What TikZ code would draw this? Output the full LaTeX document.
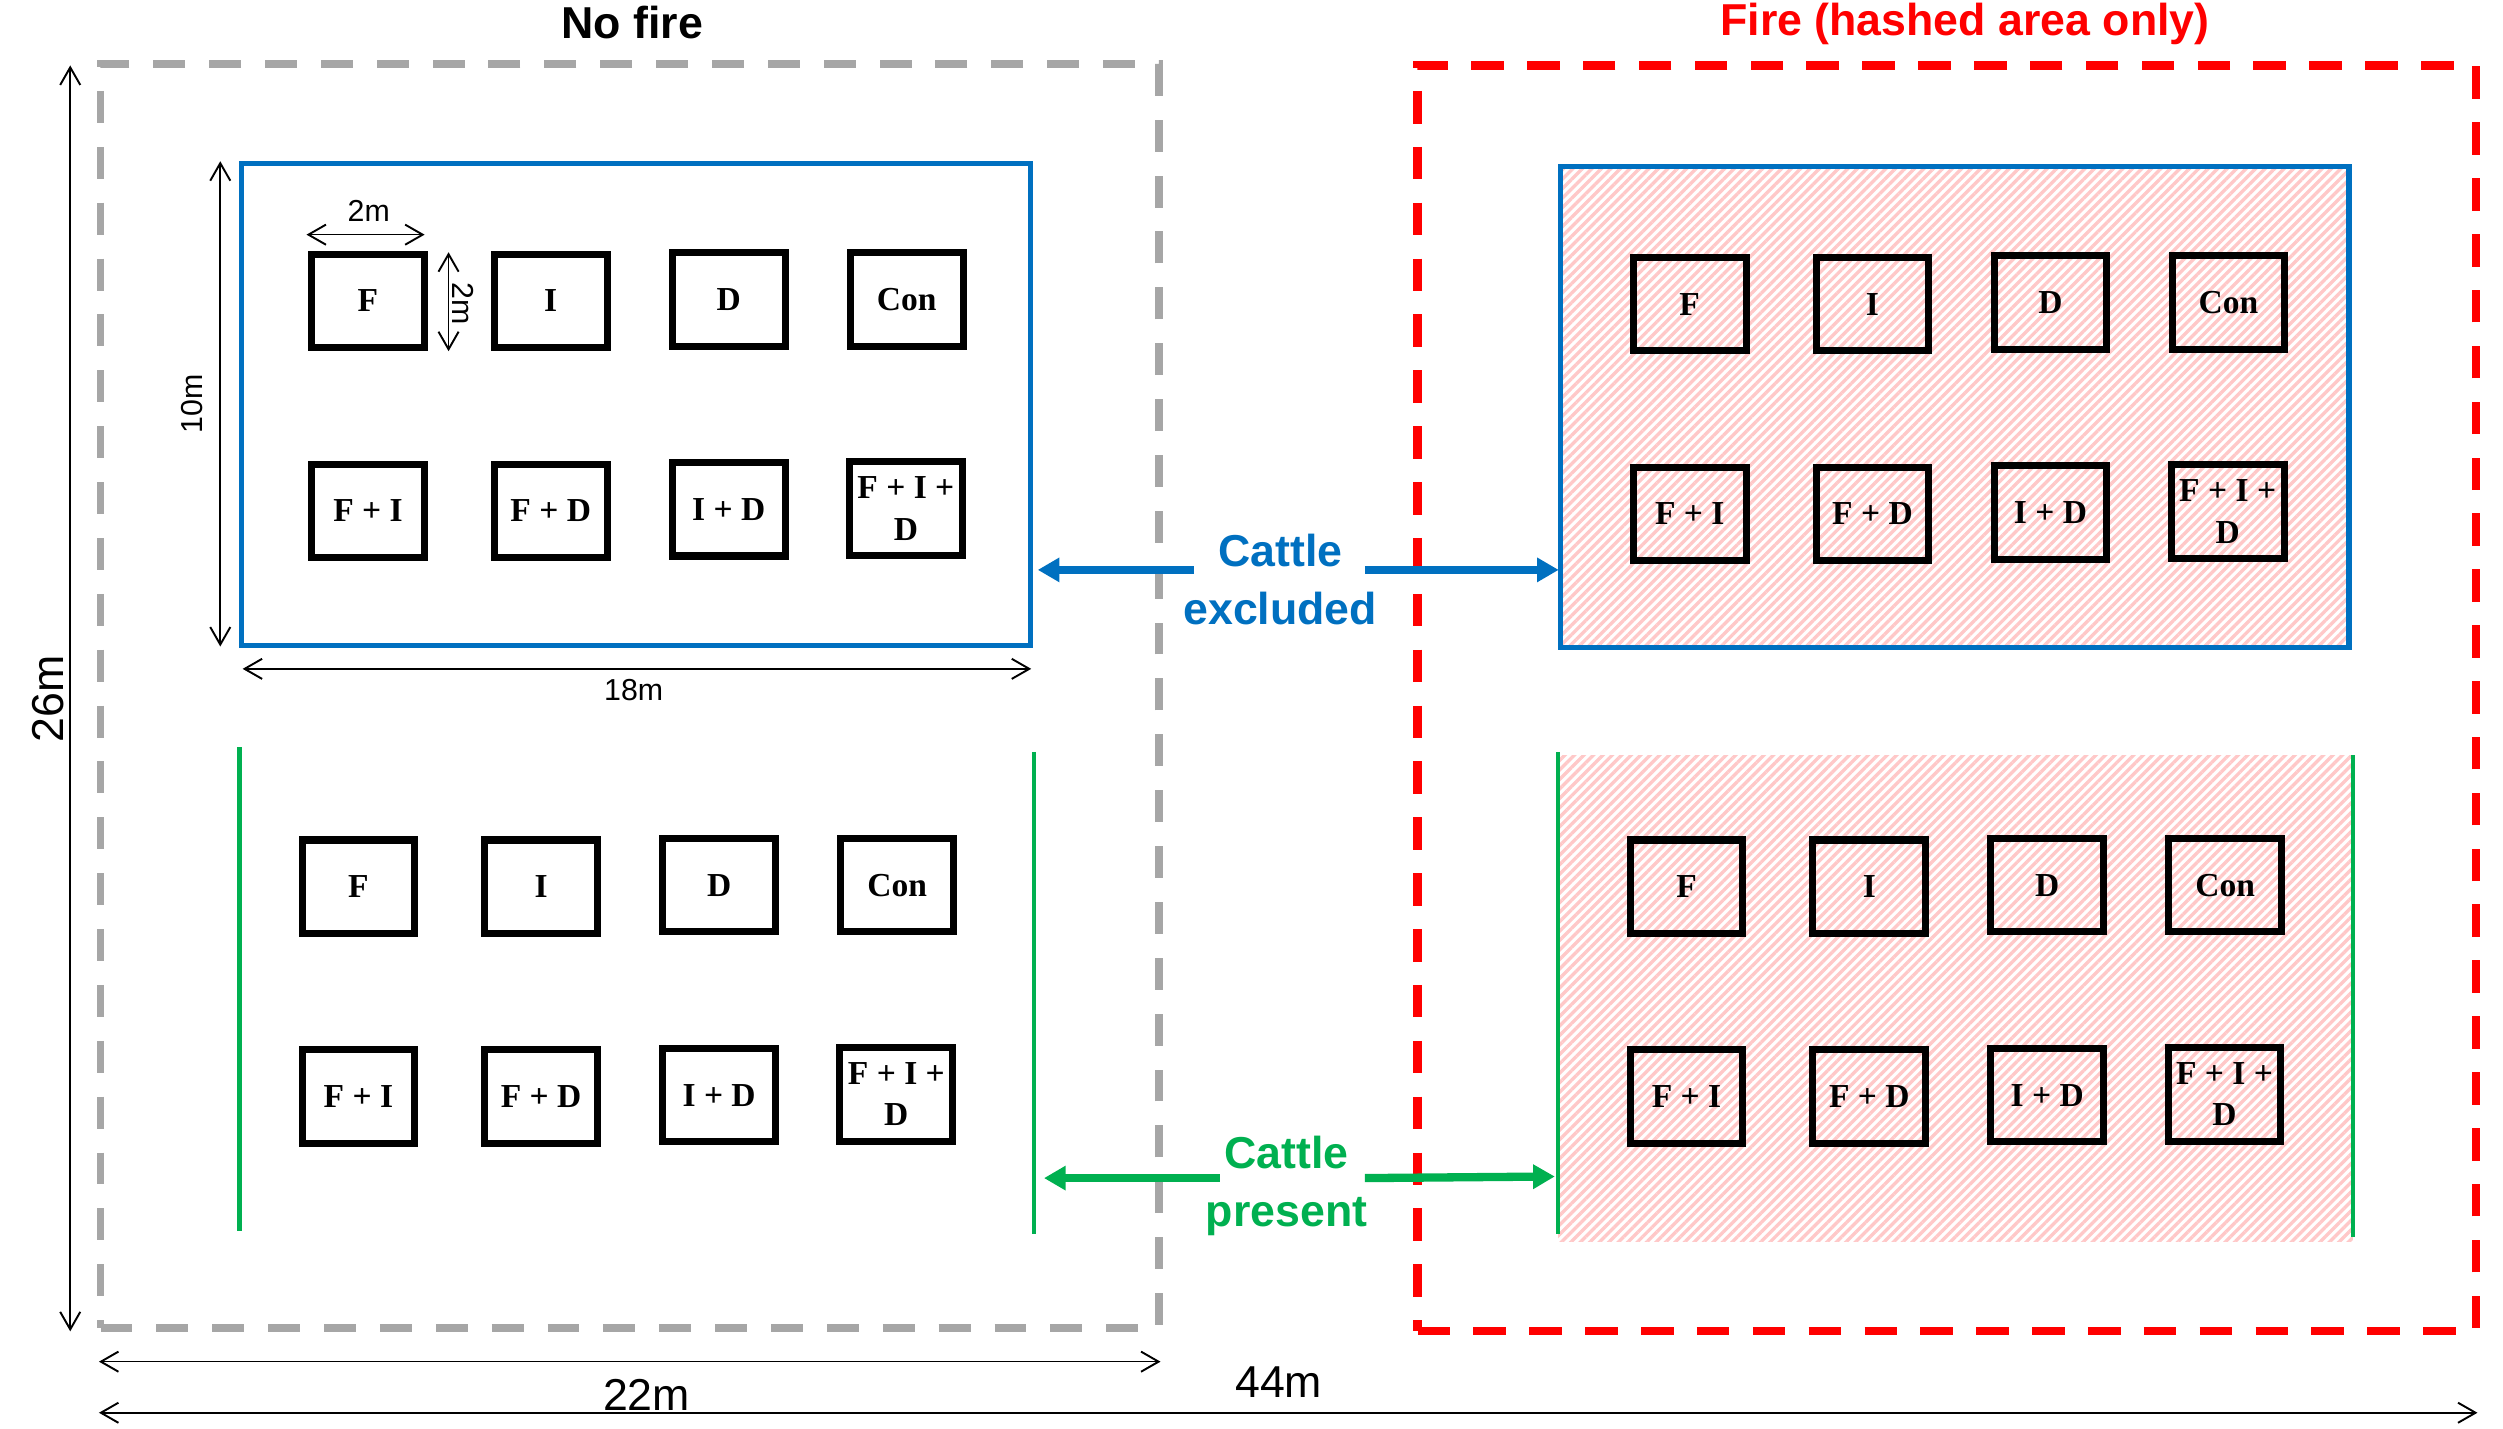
\documentclass[tikz,border=0pt]{standalone}
\usepackage{fontspec}
\setmainfont{Liberation Serif}
\setsansfont{Liberation Sans}
\usetikzlibrary{arrows.meta,patterns.meta,calc}

\definecolor{cblue}{RGB}{0,112,192}
\definecolor{cgreen}{RGB}{0,176,80}
\definecolor{cred}{RGB}{255,0,0}
\definecolor{cgray}{RGB}{166,166,166}
\definecolor{hatchpink}{RGB}{255,200,200}

\tikzset{
  plotbox/.style={draw=black, line width=2.2pt, minimum width=35.3pt, minimum height=29.3pt,
    inner sep=0pt, align=center, font=\fontsize{10.5}{13}\selectfont\bfseries},
  bluebox/.style={draw=cblue, line width=1.6pt, inner sep=0pt},
  hatched/.style={pattern={Lines[angle=45,distance=2.1pt,line width=1.05pt]}, pattern color=hatchpink},
  nofirebox/.style={draw=cgray, line width=2.3pt, dash pattern=on 10pt off 7.5pt, inner sep=0pt},
  firebox/.style={draw=cred, line width=2.6pt, dash pattern=on 10.2pt off 7.3pt, inner sep=0pt},
  greenwall/.style={draw=cgreen, line width=1.3pt},
  titletext/.style={font=\fontsize{14}{17}\selectfont\sffamily\bfseries, inner sep=0pt},
  cattletext/.style={font=\fontsize{14}{18}\selectfont\sffamily\bfseries, align=center, inner sep=0pt},
  cattlearrow/.style={line width=2.6pt, -{Triangle[length=6.8pt,width=7.3pt]}},
  dimarrow/.style={line width=0.5pt, {Straight Barb[length=5.5pt,width=6.3pt,line width=0.6pt]}-{Straight Barb[length=5.5pt,width=6.3pt,line width=0.6pt]}},
  bigdim/.style={font=\fontsize{14}{16}\selectfont\sffamily, inner sep=0pt},
  smalldim/.style={font=\fontsize{9.5}{11}\selectfont\sffamily, inner sep=0pt},
}

\newcommand\plotgrid[3]{%
  \begin{scope}[shift={(#2,#3)}]
    \node[plotbox] (#1-F)   at (0,0)         {F};
    \node[plotbox] (#1-I)   at (114.5,0)     {I};
    \node[plotbox] (#1-D)   at (226,-1)      {D};
    \node[plotbox] (#1-Con) at (337.5,-1)    {Con};
    \node[plotbox] (#1-FI)  at (0,131.5)     {F + I};
    \node[plotbox] (#1-FD)  at (114.5,131.5) {F + D};
    \node[plotbox] (#1-ID)  at (226,130.5)   {I + D};
    \node[plotbox] (#1-FID) at (337,130)     {F + I +\\D};
  \end{scope}}

\begin{document}
\begin{tikzpicture}[x=0.5pt,y=-0.5pt]
\useasboundingbox (0,0) rectangle (1568,895);

% outer treatment areas
\node[nofirebox, minimum width=331.5pt, minimum height=396pt] (nofire) at (394.5,436) {};
\node[firebox, minimum width=331.5pt, minimum height=396.5pt] (fire) at (1219.5,437.5) {};
\node[titletext] (tNo) at (396,14) {No fire};
\node[titletext, text=cred] (tFire) at (1231,15) {Fire (hashed area only)};

% cattle excluded blocks (blue fences)
\node[bluebox, minimum width=247pt, minimum height=151pt] (exclL) at (398.5,253.5) {};
\node[bluebox, hatched, minimum width=247pt, minimum height=150.5pt] (exclR) at (1224.5,255) {};

% cattle present blocks (green walls)
\node[hatched, inner sep=0pt, minimum width=249pt, minimum height=152.5pt] (presR) at (1225,625.5) {};
\draw[greenwall] (150,468) -- (150,771);
\draw[greenwall] (648,471) -- (648,773);
\draw[greenwall] (976,471) -- (976,773);
\draw[greenwall] (1474,473) -- (1474,775);

% plots
\plotgrid{TL}{230.5}{188.5}
\plotgrid{BL}{224.5}{555.5}
\plotgrid{TR}{1058.5}{190.5}
\plotgrid{BR}{1056.5}{555.5}

% cattle labels and arrows
\node[cattletext, text=cblue] (ce) at (802,363) {Cattle\\excluded};
\coordinate (ceL) at (748,357);
\coordinate (ceR) at (855,357);
\draw[cattlearrow, cblue, shorten >=1.5pt] (ceL) -- (ceL -| exclL.east);
\draw[cattlearrow, cblue] (ceR) -- (ceR -| exclR.west);

\node[cattletext, text=cgreen] (cp) at (806,743) {Cattle\\present};
\coordinate (cpL) at (764,738);
\coordinate (cpR) at (855,738);
\coordinate (cpLend) at (654,738);
\coordinate (cpRend) at (974,737);
\draw[cattlearrow, cgreen] (cpL) -- (cpLend);
\draw[cattlearrow, cgreen] (cpR) -- (cpRend);

% dimensions
\coordinate (d26a) at (44,41);   \coordinate (d26b) at (44,834);
\draw[dimarrow] (d26a) -- (d26b);
\node[bigdim, rotate=90] (l26) at (30,438) {26m};

\coordinate (d22a) at (62,853);  \coordinate (d22b) at (727,853);
\draw[dimarrow] (d22a) -- (d22b);
\node[bigdim] (l22) at (405,874) {22m};

\coordinate (d44a) at (62,885);  \coordinate (d44b) at (1552,885);
\draw[dimarrow] (d44a) -- (d44b);
\node[bigdim] (l44) at (801,866) {44m};

\coordinate (d18a) at (152,419); \coordinate (d18b) at (646,419);
\draw[dimarrow] (d18a) -- (d18b);
\node[smalldim] (l18) at (397,432) {18m};

\coordinate (d10a) at (138,101); \coordinate (d10b) at (138,405);
\draw[dimarrow] (d10a) -- (d10b);
\node[smalldim, rotate=90] (l10) at (120,253) {10m};

\coordinate (d2ha) at (192,147); \coordinate (d2hb) at (266,147);
\draw[dimarrow] (d2ha) -- (d2hb);
\node[smalldim] (l2h) at (231,132) {2m};

\coordinate (d2va) at (281,158); \coordinate (d2vb) at (281,220);
\draw[dimarrow] (d2va) -- (d2vb);
\node[smalldim, rotate=-90] (l2v) at (290,190) {2m};
\end{tikzpicture}
\end{document}
